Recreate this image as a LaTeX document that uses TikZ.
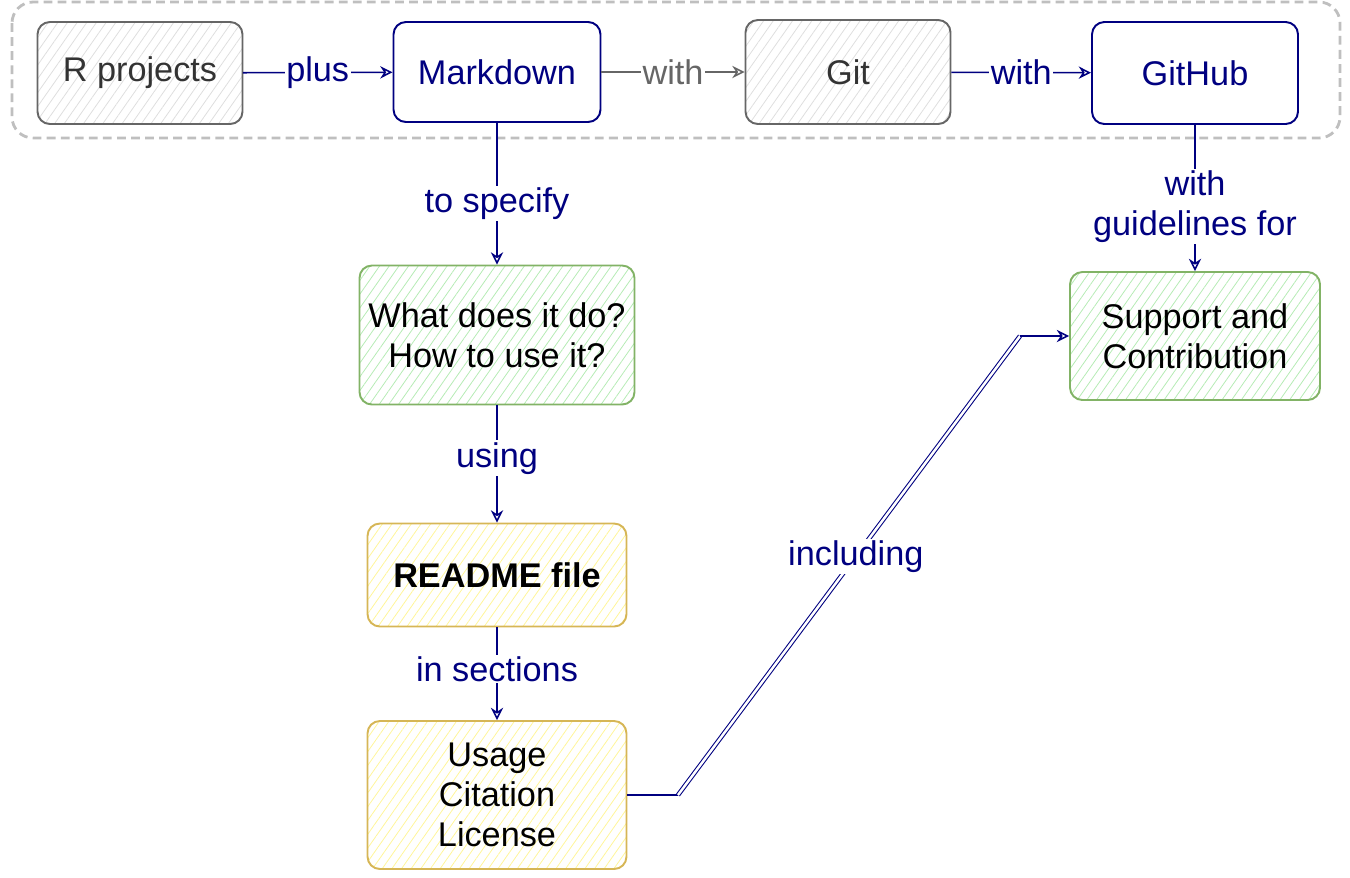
\documentclass[tikz,border=0pt]{standalone}
\usepackage{fontspec}
\setmainfont{Liberation Sans}
\usepackage{xcolor}
\usetikzlibrary{arrows.meta, patterns.meta}

\definecolor{navyline}{HTML}{000080}
\definecolor{grayline}{HTML}{666666}
\definecolor{graytext}{HTML}{333333}
\definecolor{greenline}{HTML}{82B366}
\definecolor{greenfill}{HTML}{D5E8D4}
\definecolor{yellowline}{HTML}{D6B656}
\definecolor{yellowfill}{HTML}{FFF2CC}

\begin{document}
\begin{tikzpicture}[x=0.02cm, y=-0.02cm,
    box/.style={draw, rounded corners=7pt, line width=1.1pt, align=center,
        font=\fontsize{19.5}{22.7}\selectfont, inner sep=2pt},
    hatch/.style={pattern={Lines[angle=55, distance=4.5pt, line width=0.45pt]}, pattern color=#1},
    graybox/.style={box, draw=grayline, text=graytext, hatch=black!13},
    navybox/.style={box, draw=navyline, text=navyline, fill=white},
    greenbox/.style={box, draw=greenline, text=black, hatch=greenfill!85!green},
    yellowbox/.style={box, draw=yellowline, text=black, hatch=yellowfill!75!yellow},
    lbl/.style={fill=white, text=navyline, inner sep=1pt,
        font=\fontsize{19.5}{22.7}\selectfont, align=center},
    link/.style={draw=navyline, line width=0.9pt, -{Stealth[open, length=7pt, width=7pt]}},
    dblline/.style={draw=navyline, line width=0.6pt, double=white, double distance=1.4pt}
]

    \useasboundingbox (0,0) rectangle (1350,877);

    % group around the tools
    \draw[black!25, line width=1.6pt, dash pattern=on 5pt off 3pt, rounded corners=12pt]
        (12,2) rectangle (1340,138);

    \node[graybox, minimum width=4.1cm, minimum height=2.04cm] (rproj) at (140,73) {R projects};
    \node[navybox, minimum width=4.14cm, minimum height=2.0cm] (mdown) at (497,72) {Markdown};
    \node[graybox, minimum width=4.1cm, minimum height=2.08cm] (git) at (848,72) {Git};
    \node[navybox, minimum width=4.12cm, minimum height=2.04cm] (github) at (1195,73) {GitHub};

    \node[greenbox, minimum width=5.5cm, minimum height=2.78cm] (what) at (497,335)
        {What does it do?\\How to use it?};
    \node[yellowbox, minimum width=5.18cm, minimum height=2.06cm] (readme) at (497,575)
        {\bfseries README file};
    \node[yellowbox, minimum width=5.18cm, minimum height=2.96cm] (usage) at (497,795)
        {Usage\\Citation\\License};
    \node[greenbox, minimum width=5.0cm, minimum height=2.56cm] (support) at (1195,336)
        {Support and\\Contribution};

    \draw[link] (rproj) -- node[lbl]{plus} (mdown);
    \draw[link, draw=grayline] (mdown) -- node[lbl, text=grayline]{with} (git);
    \draw[link] (git) -- node[lbl]{with} (github);

    \draw[link] (mdown) -- node[lbl, pos=0.57]{to specify} (what);
    \draw[link] (what) -- node[lbl, pos=0.45]{using} (readme);
    \draw[link] (readme) -- node[lbl, pos=0.45]{in sections} (usage);
    \draw[link] (github) -- node[lbl, pos=0.56]{with\\guidelines for} (support);

    \coordinate (bendA) at (678,795);
    \coordinate (bendB) at (1020,336);
    \draw[draw=navyline, line width=0.9pt] (usage.east) -- (bendA);
    \draw[dblline] (bendA) -- node[lbl, pos=0.52]{including} (bendB);
    \draw[link] (bendB) -- (support.west);

\end{tikzpicture}
\end{document}
